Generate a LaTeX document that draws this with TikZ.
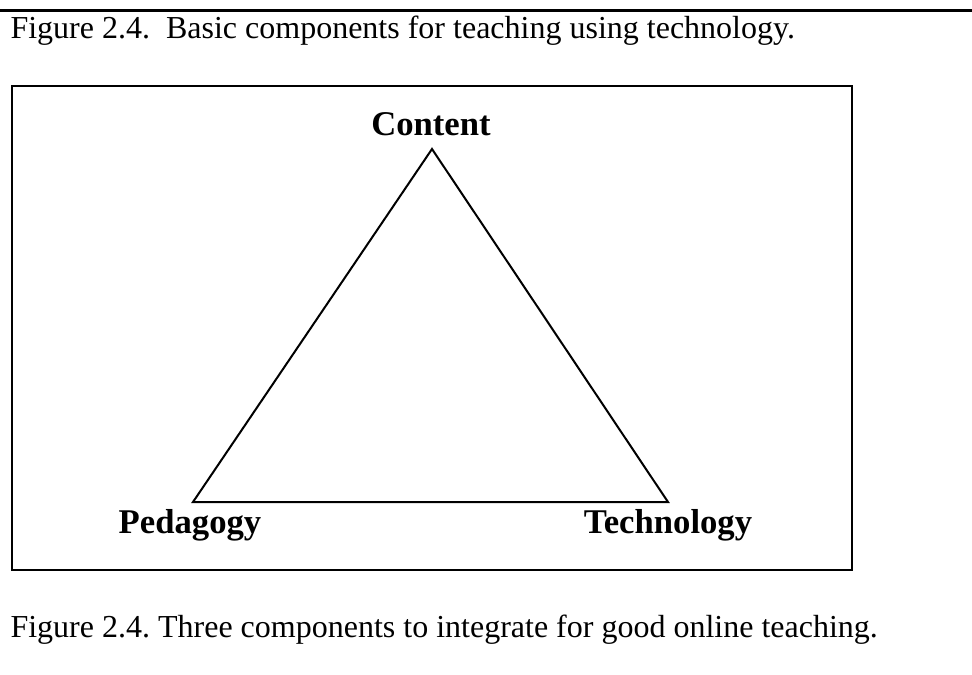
\documentclass[tikz,border=0pt]{standalone}
\usepackage{fontspec}
\setmainfont{Liberation Serif}
\usetikzlibrary{positioning}

\tikzset{
    caption/.style={anchor=base west, inner sep=0pt, font=\fontsize{12}{14}\selectfont\frenchspacing},
    corner/.style={anchor=base, inner sep=0pt, font=\fontsize{13}{15}\selectfont\bfseries},
}

\begin{document}
\begin{tikzpicture}[x=0.375pt, y=-0.375pt]
        \useasboundingbox (0,0) rectangle (972,675);
        \draw[line width=1.1pt] (0,10.5) -- (972,10.5);
        \node[caption] (title) at (10,38) {Figure 2.4.\ \ Basic components for teaching using technology.};
        \draw[line width=0.9pt] (12,86) rectangle (852,570);

        \coordinate (apex)  at (432,149);
        \coordinate (left)  at (193,502);
        \coordinate (right) at (668,502);

        \node[corner] (content)    at (431,135) {Content};
        \node[corner] (pedagogy)   at (190,533) {Pedagogy};
        \node[corner] (technology) at (668,533) {Technology};

        \draw[line width=0.75pt] (apex)--(left)--(right)--cycle;

        \node[caption] (caption) at (10,637) {Figure 2.4. Three components to integrate for good online teaching.};
    \end{tikzpicture}
\end{document}
